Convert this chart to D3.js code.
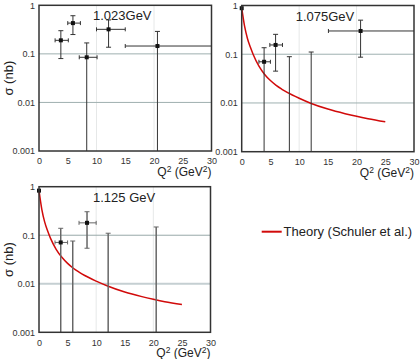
<!DOCTYPE html>
<html>
<head>
<meta charset="utf-8">
<script src="https://cdn.jsdelivr.net/npm/d3@7"></script>
<style>
  body { margin: 0; background: #fff; }
  svg { display: block; font-family: "Liberation Sans", Arial, sans-serif; }
</style>
</head>
<body>
<svg id="chart" width="420" height="359"></svg>
<script>
// x ticks and y ticks
const xTicks = [0, 5, 10, 15, 20, 25, 30];
const yTicks = [1, 0.1, 0.01, 0.001];
const yTickLabels = ["1", "0.1", "0.01", "0.001"];

// panel 1.023 GeV (lo 0.001 = bar runs down to the axis)
const q2_1023 = [3.8, 5.9, 8.3, 12.1, 20.6];
const sig_1023 = [0.19, 0.43, 0.085, 0.32, 0.145];
const sigHi_1023 = [0.30, 0.61, 0.168, 0.50, 0.29];
const sigLo_1023 = [0.08, 0.25, 0.001, 0.137, 0.001];
const q2Lo_1023 = [2.8, 5.0, 7.0, 10.0, 15.0];
const q2Hi_1023 = [5.1, 7.2, 10.1, 15.0, 30];

// panel 1.075 GeV
const q2_1075 = [0, 3.9, 5.9, 8.3, 12.1, 20.7];
const sig_1075 = [0.88, 0.07, 0.155, null, null, 0.30];
const sigHi_1075 = [null, 0.136, 0.256, 0.089, 0.111, 0.5];
const sigLo_1075 = [null, 0.001, 0.045, 0.001, 0.001, 0.087];
const q2Lo_1075 = [null, 3.0, 4.9, null, null, 15.1];
const q2Hi_1075 = [null, 5.0, 7.1, null, null, 30];

// panel 1.125 GeV
const q2_1125 = [0, 3.8, 5.9, 8.4, 12.1, 20.5];
const sig_1125 = [0.83, 0.071, null, 0.18, null, null];
const sigHi_1125 = [null, 0.139, 0.076, 0.305, 0.11, 0.148];
const sigLo_1125 = [null, 0.001, 0.001, 0.054, 0.001, 0.001];
const q2Lo_1125 = [null, 2.8, null, 7.0, null, null];
const q2Hi_1125 = [null, 5.0, null, 10.0, null, null];

// theory curves (Schuler et al.)
const theoryQ2 = [0, 0.5, 1, 1.5, 2, 3, 4, 5, 6, 7, 8, 10, 12, 15, 18, 20, 22, 25];
const theory_1075 = [0.891, 0.376, 0.211, 0.140, 0.0989, 0.0569, 0.0385, 0.0288, 0.0229, 0.0191, 0.0163, 0.0125, 0.0099, 0.0075, 0.00603, 0.00532, 0.00476, 0.00412];
const theory_1125 = [0.83, 0.338, 0.186, 0.123, 0.0871, 0.0513, 0.0351, 0.0263, 0.0209, 0.0174, 0.0148, 0.01135, 0.00902, 0.00676, 0.00543, 0.00479, 0.00427, 0.00372];

const svg = d3.select("#chart");
const red = "#d10a0a";

function drawPanel(p) {
    const xScale = d3.scaleLinear().domain([0, 30]).range([p.left, p.right]);
    const yScale = d3.scaleLog().domain([0.001, 1]).range([p.bottom, p.top]);
    const g = svg.append("g");

    // grid
    g.selectAll(".vgrid").data([10, 20]).enter().append("line")
        .attr("x1", d => xScale(d)).attr("x2", d => xScale(d))
        .attr("y1", p.top).attr("y2", p.bottom)
        .attr("stroke", "#e6e8e8").attr("stroke-width", 1);
    g.selectAll(".hgrid").data([0.1, 0.01]).enter().append("line")
        .attr("x1", p.left).attr("x2", p.right)
        .attr("y1", d => yScale(d)).attr("y2", d => yScale(d))
        .attr("stroke", (d, i) => p.grid[i]).attr("stroke-width", (d, i) => p.gridW[i]);

    // axes
    const xAxis = d3.axisBottom(xScale).tickValues(xTicks).tickSize(0).tickPadding(7);
    g.append("g").attr("transform", `translate(0,${p.bottom})`).call(xAxis)
        .call(s => s.select(".domain").remove())
        .selectAll("text").attr("font-size", 9).attr("fill", "#333").attr("font-family", "Liberation Sans, Arial");
    const yAxis = d3.axisLeft(yScale).tickValues(yTicks).tickSize(0).tickPadding(4)
        .tickFormat((d, i) => yTickLabels[i]);
    g.append("g").attr("transform", `translate(${p.left},0)`).call(yAxis)
        .call(s => s.select(".domain").remove())
        .selectAll("text").attr("font-size", 9).attr("fill", "#333").attr("font-family", "Liberation Sans, Arial");

    // theory
    if (p.theory) {
        const line = d3.line()
            .x((d, i) => xScale(theoryQ2[i]))
            .y(d => yScale(d))
            .curve(d3.curveMonotoneX);
        g.append("path").attr("d", line(p.theory))
            .attr("fill", "none").attr("stroke", red).attr("stroke-width", 1.5);
    }

    // error bars
    const n = p.q2.length;
    for (let i = 0; i < n; i++) {
        const cx = xScale(p.q2[i]);
        if (p.hi[i] != null) {
            g.append("line").attr("x1", cx).attr("x2", cx)
                .attr("y1", yScale(p.hi[i])).attr("y2", yScale(p.lo[i]))
                .attr("stroke", p.barColor).attr("stroke-width", p.barW);
            g.append("line").attr("x1", cx - 2.5).attr("x2", cx + 2.5)
                .attr("y1", yScale(p.hi[i])).attr("y2", yScale(p.hi[i]))
                .attr("stroke", p.barColor).attr("stroke-width", 1);
            if (p.lo[i] > 0.001) {
                g.append("line").attr("x1", cx - 2.5).attr("x2", cx + 2.5)
                    .attr("y1", yScale(p.lo[i])).attr("y2", yScale(p.lo[i]))
                    .attr("stroke", p.barColor).attr("stroke-width", 1);
            }
        }
        if (p.xlo[i] != null) {
            const cy = yScale(p.sig[i]);
            g.append("line").attr("x1", xScale(p.xlo[i])).attr("x2", xScale(p.xhi[i]))
                .attr("y1", cy).attr("y2", cy)
                .attr("stroke", p.barColor).attr("stroke-width", 1);
            [p.xlo[i], p.xhi[i]].forEach(v => {
                if (v < 30) {
                    g.append("line").attr("x1", xScale(v)).attr("x2", xScale(v))
                        .attr("y1", cy - 2).attr("y2", cy + 2)
                        .attr("stroke", p.barColor).attr("stroke-width", 1);
                }
            });
        }
        if (p.sig[i] != null) {
            g.append("rect")
                .attr("x", cx - 2).attr("y", yScale(p.sig[i]) - 2)
                .attr("width", 4).attr("height", 4)
                .attr("fill", "#111");
        }
    }

    // frame
    g.append("rect").attr("x", p.left).attr("y", p.top)
        .attr("width", p.right - p.left).attr("height", p.bottom - p.top)
        .attr("fill", "none").attr("stroke", "#333").attr("stroke-width", 1.5);

    // labels
    g.append("text").attr("x", p.left + 54).attr("y", p.top + 15)
        .attr("font-size", 13).attr("fill", "#222").text(p.label);
    g.append("text").attr("x", p.right).attr("y", p.bottom + 25)
        .attr("text-anchor", "end").attr("font-size", 12).attr("fill", "#222")
        .html('Q<tspan dy="-4" font-size="8.5">2</tspan><tspan dy="4"> (GeV</tspan><tspan dy="-4" font-size="8.5">2</tspan><tspan dy="4">)</tspan>');
    if (p.ylabel) {
        g.append("text")
            .attr("transform", `translate(${p.left - 26},${(p.top + p.bottom) / 2}) rotate(-90)`)
            .attr("text-anchor", "middle").attr("font-size", 13).attr("fill", "#222")
            .text("σ (nb)");
    }
}

drawPanel({
    left: 39, right: 211.5, top: 5.3, bottom: 151,
    q2: q2_1023, sig: sig_1023, hi: sigHi_1023, lo: sigLo_1023, xlo: q2Lo_1023, xhi: q2Hi_1023,
    label: "1.023GeV", ylabel: true, theory: null,
    grid: ["#9fb0b0", "#9fb0b0"], gridW: [1, 1], barColor: "#333", barW: 1
});
drawPanel({
    left: 241.7, right: 414, top: 5.5, bottom: 151.7,
    q2: q2_1075, sig: sig_1075, hi: sigHi_1075, lo: sigLo_1075, xlo: q2Lo_1075, xhi: q2Hi_1075,
    label: "1.075GeV", ylabel: false, theory: theory_1075,
    grid: ["#9fb0b0", "#9fb0b0"], gridW: [1, 1], barColor: "#333", barW: 1
});
drawPanel({
    left: 39, right: 210.5, top: 186.7, bottom: 332.3,
    q2: q2_1125, sig: sig_1125, hi: sigHi_1125, lo: sigLo_1125, xlo: q2Lo_1125, xhi: q2Hi_1125,
    label: "1.125 GeV", ylabel: true, theory: theory_1125,
    grid: ["#98a8a8", "#c5cfd2"], gridW: [1, 2], barColor: "#666", barW: 1.5
});

// legend
svg.append("line").attr("x1", 261.7).attr("x2", 281.7).attr("y1", 231.7).attr("y2", 231.7)
    .attr("stroke", red).attr("stroke-width", 2);
svg.append("text").attr("x", 283.5).attr("y", 236)
    .attr("font-size", 13).attr("fill", "#222").text("Theory (Schuler et al.)");
</script>
</body>
</html>
